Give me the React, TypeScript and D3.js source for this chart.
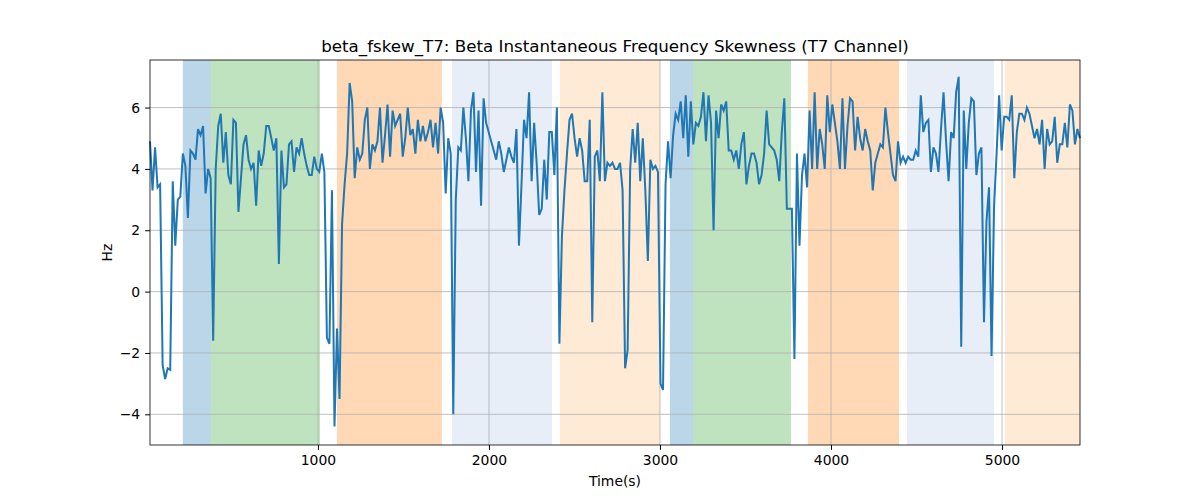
import { useEffect, useRef } from 'react';
import * as d3 from 'd3';

// sampled skewness values (Hz), evenly spaced in time
const values: number[] = [
  4.9, 3.3, 4.7, 3.4, 3.5, -2.4, -2.85, -2.5, -2.55, 3.6, 1.5, 3.0, 3.1, 4.5, 4.1, 2.4, 4.6, 4.5, 4.3, 5.3,
  5.1, 5.4, 3.2, 4.0, 3.7, -1.6, 4.0, 5.4, 5.8, 4.2, 5.2, 3.8, 3.5, 5.6, 5.5, 2.6, 3.7, 4.8, 5.1, 4.3,
  4.0, 4.2, 2.8, 4.6, 4.1, 4.5, 5.4, 5.4, 5.0, 4.6, 5.0, 0.9, 4.6, 3.4, 3.5, 4.8, 4.9, 3.9, 4.7, 4.5,
  5.0, 4.5, 4.1, 3.8, 3.8, 4.4, 4.0, 3.9, 4.5, 3.9, -1.5, -1.7, 3.3, -4.4, -1.2, -3.5, 2.2, 3.5, 4.5, 6.8,
  6.2, 3.7, 4.7, 4.3, 4.5, 5.6, 6.0, 4.0, 4.8, 4.6, 4.9, 6.0, 4.2, 5.1, 6.1, 4.4, 5.9, 5.4,
  5.6, 5.8, 4.4, 5.0, 6.0, 5.1, 5.3, 4.5, 5.6, 4.9, 5.4, 4.9, 5.2, 5.6, 4.7, 5.5, 4.5, 6.0, 5.5,
  3.2, 5.0, 4.5, -4.0, 3.0, 4.7, 4.6, 6.0, 5.0, 3.6, 5.9, 6.5, 3.9, 5.9, 2.8, 6.3, 5.5, 5.2, 4.9, 4.6,
  4.3, 4.9, 4.5, 3.9, 4.3, 4.7, 4.4, 4.2, 5.3, 1.5, 3.5, 5.6, 5.0, 6.5, 3.6, 5.5, 4.2, 2.5, 2.7, 4.3,
  3.0, 5.2, 5.2, 3.8, 6.0, -1.7, 1.8, 3.3, 4.5, 5.6, 5.8, 5.0, 4.4, 5.0, 4.6, 3.6, 3.6, 5.6, -1.0, 4.4,
  4.6, 3.6, 6.5, 3.6, 4.2, 4.1, 4.2, 4.0, 4.0, 4.2, 3.3, -2.5, -1.9, 4.0, 5.3, 4.2, 5.5, 3.6, 5.0, 3.3,
  1.0, 4.3, 4.0, 4.1, 3.9, -3.0, -3.2, 3.5, 4.9, 3.7, 5.1, 5.8, 5.6, 6.2, 5.0, 6.4, 4.4, 6.2, 4.8, 5.5,
  5.4, 5.7, 6.5, 4.9, 6.4, 5.5, 2.0, 5.9, 5.0, 6.1, 5.9, 6.2, 4.6, 4.6, 4.3, 4.6, 4.0, 4.8, 5.2, 3.5,
  4.1, 4.5, 4.5, 4.2, 3.5, 3.8, 4.5, 5.9, 4.8, 4.7, 4.6, 4.3, 3.6, 5.2, 6.3, 2.7, 2.7, 2.7, -2.2, 4.5,
  1.5, 3.8, 4.5, 3.4, 5.9, 4.0, 6.5, 4.0, 5.3, 4.8, 4.0, 6.4, 5.2, 6.1, 5.5, 4.9, 4.0, 6.3, 4.0, 5.4,
  6.3, 6.2, 4.6, 5.7, 5.0, 4.6, 5.3, 4.9, 4.6, 3.3, 4.2, 4.5, 4.8, 4.7, 6.0, 5.2, 4.5, 3.8, 3.6, 4.9,
  4.2, 4.4, 4.2, 4.4, 4.3, 4.3, 4.6, 4.4, 6.4, 5.2, 5.5, 5.6, 3.9, 4.7, 4.5, 3.9, 5.3, 6.5, 4.9, 3.6,
  5.2, 5.0, 6.5, 7.0, -1.8, 5.9, 4.0, 5.5, 6.3, 6.2, 3.8, 4.5, 4.7, -1.0, 2.3, 3.4, -2.1, 2.8, 4.5, 6.4,
  4.6, 5.7, 5.7, 5.6, 6.4, 3.7, 5.2, 5.8, 5.8, 5.6, 6.0, 5.8, 5.4, 5.0, 5.3, 4.8, 5.6, 4.0, 5.3, 4.8,
  4.9, 5.7, 4.2, 4.8, 4.8, 5.5, 4.7, 6.1, 5.9, 4.8, 5.3, 5.0,
];
const tStart = 18;
const tEnd = 5456;

// shaded intervals [start, end, colour]
const spans: [number, number, string][] = [
  [210, 374, '#1f77b4'],
  [374, 1012, '#2ca02c'],
  [1111, 1725, '#ff7f0e'],
  [1784, 2368, '#aec7e8'],
  [2415, 3000, '#ffbb78'],
  [3058, 3193, '#1f77b4'],
  [3193, 3766, '#2ca02c'],
  [3865, 4398, '#ff7f0e'],
  [4444, 4953, '#aec7e8'],
  [5018, 5456, '#ffbb78'],
];

const xTicks = [1000, 2000, 3000, 4000, 5000];
const yTicks = [-4, -2, 0, 2, 4, 6];

export default function App() {
  const svgRef = useRef<SVGSVGElement | null>(null);
  const W = 1200;
  const H = 500;
  const margin = { top: 60, right: 120, bottom: 55, left: 150 };

  useEffect(() => {
    const svg = d3.select(svgRef.current);
    svg.selectAll('*').remove();
    const width = W - margin.left - margin.right;
    const height = H - margin.top - margin.bottom;
    const g = svg.append('g').attr('transform', `translate(${margin.left},${margin.top})`);

    const step = (tEnd - tStart) / (values.length - 1);
    const data = values.map((v, i) => [tStart + i * step, v] as [number, number]);

    const x = d3.scaleLinear().domain([tStart, tEnd]).range([0, width]);
    const y = d3.scaleLinear().domain([-5.0, 7.55]).range([height, 0]);

    g.selectAll('.span')
      .data(spans)
      .enter()
      .append('rect')
      .attr('x', (d) => x(d[0]))
      .attr('width', (d) => x(d[1]) - x(d[0]))
      .attr('y', 0)
      .attr('height', height)
      .attr('fill', (d) => d[2])
      .attr('fill-opacity', 0.3);

    // grid
    g.selectAll('.gx')
      .data(xTicks)
      .enter()
      .append('line')
      .attr('x1', (d) => x(d))
      .attr('x2', (d) => x(d))
      .attr('y1', 0)
      .attr('y2', height)
      .attr('stroke', '#b0b0b0')
      .attr('stroke-width', 0.8);
    g.selectAll('.gy')
      .data(yTicks)
      .enter()
      .append('line')
      .attr('x1', 0)
      .attr('x2', width)
      .attr('y1', (d) => y(d))
      .attr('y2', (d) => y(d))
      .attr('stroke', '#b0b0b0')
      .attr('stroke-width', 0.8);

    const line = d3
      .line<[number, number]>()
      .x((d) => x(d[0]))
      .y((d) => y(d[1]));
    g.append('path')
      .datum(data)
      .attr('fill', 'none')
      .attr('stroke', '#1f77b4')
      .attr('stroke-width', 2)
      .attr('d', line);

    const xAxis = g
      .append('g')
      .attr('transform', `translate(0,${height})`)
      .call(d3.axisBottom(x).tickValues(xTicks).tickSize(4.9).tickPadding(4.9).tickFormat(d3.format('d')));
    const yAxis = g
      .append('g')
      .call(d3.axisLeft(y).tickValues(yTicks).tickSize(4.9).tickPadding(4.9).tickFormat((d) => String(d).replace('-', '\u2212')));
    [xAxis, yAxis].forEach((a) => {
      a.selectAll('text').attr('font-size', 13.9).attr('font-family', 'DejaVu Sans').attr('fill', '#000');
      a.select('.domain').remove();
    });

    g.append('rect')
      .attr('width', width)
      .attr('height', height)
      .attr('fill', 'none')
      .attr('stroke', '#000')
      .attr('stroke-width', 0.8);

    g.append('text')
      .attr('x', width / 2)
      .attr('y', -8)
      .attr('text-anchor', 'middle')
      .attr('font-size', 16.7)
      .attr('font-family', 'DejaVu Sans')
      .text('beta_fskew_T7: Beta Instantaneous Frequency Skewness (T7 Channel)');
    g.append('text')
      .attr('x', width / 2)
      .attr('y', height + 41)
      .attr('text-anchor', 'middle')
      .attr('font-size', 13.9)
      .attr('font-family', 'DejaVu Sans')
      .text('Time(s)');
    g.append('text')
      .attr('transform', `translate(-38,${height / 2}) rotate(-90)`)
      .attr('text-anchor', 'middle')
      .attr('font-size', 13.9)
      .attr('font-family', 'DejaVu Sans')
      .text('Hz');
  }, []);

  return (
    <svg
      ref={svgRef}
      width={W}
      height={H}
      style={{ position: 'fixed', top: 0, left: 0, background: '#fff' }}
    ></svg>
  );
}
